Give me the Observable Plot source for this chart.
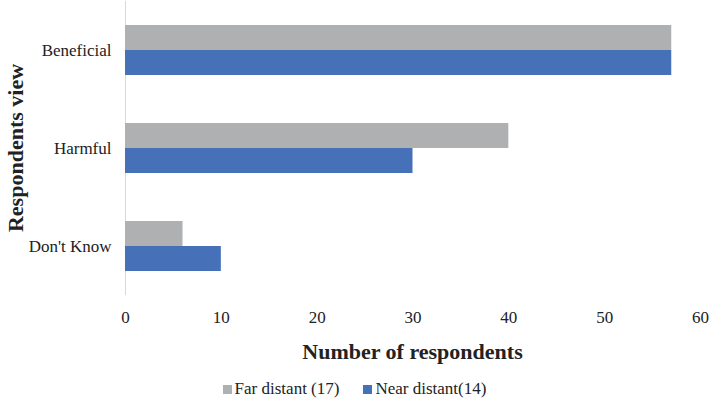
<!DOCTYPE html>
<html><head><meta charset="utf-8">
<script src="https://cdn.jsdelivr.net/npm/d3@7"></script>
<script src="https://cdn.jsdelivr.net/npm/@observablehq/plot@0.6"></script>
<style>
body{margin:0;background:#fff;font-family:"Liberation Serif","Times New Roman",serif;}
#chart svg text{font-family:"Liberation Serif","Times New Roman",serif;}
#legend{display:flex;justify-content:center;align-items:center;gap:24px;font-size:17px;color:#222;height:20px;margin-top:7px;}
#legend span.sw{display:inline-block;width:9px;height:9px;margin-right:3px;vertical-align:middle;position:relative;top:-1px;}
</style></head>
<body><div id="chart"></div><div id="legend"></div>
<script>
const categories = ["Beneficial", "Harmful", "Don't Know"];
const series = ["Far distant (17)", "Near distant(14)"];
const farValues = [57, 40, 6];
const nearValues = [57, 30, 10];
const xTicks = [0, 10, 20, 30, 40, 50, 60];
const colors = ["#afb0b1", "#4671b9"];
const xTitle = "Number of respondents";
const yTitle = "Respondents view";

const data = categories.flatMap((c, i) => [
  {category: c, series: series[0], value: farValues[i]},
  {category: c, series: series[1], value: nearValues[i]}
]);

const W = 709, H = 372, ML = 125, MR = 9, MT = 0, MB = 76;
const chart = Plot.plot({
  width: W, height: H, marginLeft: ML, marginRight: MR, marginTop: MT, marginBottom: MB,
  style: {fontFamily: '"Liberation Serif","Times New Roman",serif', fontSize: "17px", color: "#222", background: "#fff"},
  x: {domain: [0, 60], ticks: xTicks},
  fy: {domain: categories, padding: 0},
  y: {domain: series, paddingInner: 0, paddingOuter: 0.935, axis: null},
  color: {domain: series, range: colors},
  marks: [
    Plot.ruleX([0], {stroke: "#d9d9d9", strokeWidth: 1}),
    Plot.barX(data, {fy: "category", y: "series", x: "value", fill: "series"}),
    Plot.axisFy({anchor: "left", tickSize: 0, tickPadding: 14, label: null}),
    Plot.axisX({tickSize: 0, tickPadding: 15, label: null})
  ]
});
document.getElementById("chart").appendChild(chart);
d3.select(chart).selectAll("g[aria-label^='fy-axis'] text, g[aria-label^='x-axis'] text").style("font-size", "17px");

const svg = d3.select(chart);
svg.append("text")
  .attr("x", (ML + W - MR) / 2).attr("y", 359)
  .attr("text-anchor", "middle")
  .style("font-weight", "bold").style("font-size", "22px").style("fill", "#222")
  .text(xTitle);
svg.append("text")
  .attr("transform", `translate(23,${(MT + H - MB) / 2}) rotate(-90)`)
  .attr("text-anchor", "middle")
  .style("font-weight", "bold").style("font-size", "22px").style("fill", "#222")
  .text(yTitle);

const legend = d3.select("#legend");
series.forEach((s, i) => {
  const item = legend.append("div");
  item.append("span").attr("class", "sw").style("background", colors[i]);
  item.append("span").text(s);
});
</script>
</body></html>
